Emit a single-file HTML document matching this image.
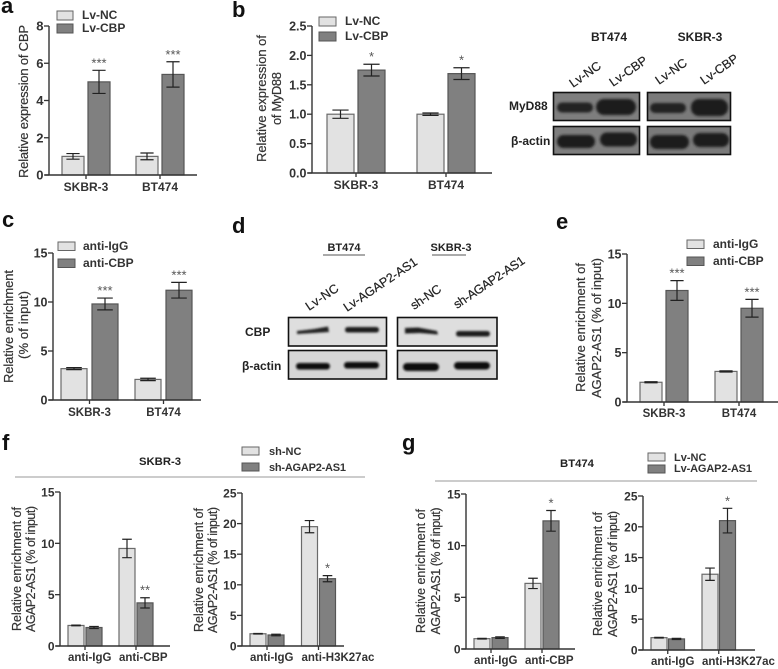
<!DOCTYPE html>
<html lang="en">
<head>
<meta charset="utf-8">
<title>Multi-panel bar charts and western blots</title>
<style>
html,body{margin:0;padding:0;background:#fff;}
svg{display:block;filter:blur(.35px);}
text{font-family:"Liberation Sans",Arial,sans-serif;fill:#2b2b2b;}
.letter{font-size:22px;font-weight:bold;fill:#111;}
.leg{font-size:12px;font-weight:bold;fill:#333;}
.lite{fill:#e2e2e2;stroke:#666;stroke-width:1;}
.dark{fill:#808080;stroke:#555;stroke-width:1;}
.ytitle{font-size:13px;fill:#333;stroke:#333;stroke-width:.2;}
.ytitle.small{font-size:12.5px;}
.blab{font-size:12px;font-weight:bold;fill:#222;}
.rot{font-size:12.5px;fill:#222;stroke:#222;stroke-width:.2;}
</style>
</head>
<body>
<svg id="figure" xmlns="http://www.w3.org/2000/svg" width="778" height="669" viewBox="0 0 778 669">
<defs>
<filter id="blur1" x="-20%" y="-60%" width="140%" height="220%"><feGaussianBlur stdDeviation="1.3"/></filter>
<filter id="blur2" x="-20%" y="-80%" width="140%" height="260%"><feGaussianBlur stdDeviation="1.1"/></filter>
</defs>
<rect width="778" height="669" fill="#fff"/>

<text class="letter" x="1" y="13">a</text>
<text class="letter" x="232" y="17">b</text>
<text class="letter" x="2" y="227">c</text>
<text class="letter" x="232" y="233">d</text>
<text class="letter" x="556" y="229">e</text>
<text class="letter" x="2" y="450">f</text>
<text class="letter" x="402" y="450">g</text>

<!-- legends -->
<g>
<rect class="lite" x="57" y="11" width="16" height="9"/>
<rect class="dark" x="57" y="24" width="16" height="9"/>
<text class="leg" x="82" y="19">Lv-NC</text>
<text class="leg" x="82" y="32">Lv-CBP</text>
</g>
<g>
<rect class="lite" x="319" y="17" width="17" height="9"/>
<rect class="dark" x="319" y="32" width="17" height="9"/>
<text class="leg" x="345" y="25">Lv-NC</text>
<text class="leg" x="345" y="40">Lv-CBP</text>
</g>
<g>
<rect class="lite" x="58" y="242" width="17" height="8.5"/>
<rect class="dark" x="58" y="259" width="17" height="8.5"/>
<text class="leg" x="83" y="250">anti-IgG</text>
<text class="leg" x="83" y="267">anti-CBP</text>
</g>
<g>
<rect class="lite" x="687" y="240" width="17" height="8.5"/>
<rect class="dark" x="687" y="257" width="17" height="8.5"/>
<text class="leg" x="713" y="248">anti-IgG</text>
<text class="leg" x="713" y="265">anti-CBP</text>
</g>
<g>
<rect class="lite" x="242" y="447" width="17" height="8"/>
<rect class="dark" x="242" y="463" width="17" height="8"/>
<text class="leg" style="font-size:11px" x="269" y="455">sh-NC</text>
<text class="leg" style="font-size:11px" x="269" y="471" textLength="77">sh-AGAP2-AS1</text>
</g>
<g>
<rect class="lite" x="648" y="453" width="17" height="8"/>
<rect class="dark" x="648" y="465" width="17" height="8"/>
<text class="leg" style="font-size:11px" x="674" y="461">Lv-NC</text>
<text class="leg" style="font-size:11px" x="674" y="472" textLength="78">Lv-AGAP2-AS1</text>
</g>

<!-- section headers -->
<text class="blab" style="font-size:11.3px" text-anchor="middle" x="160" y="465">SKBR-3</text>
<line x1="15" y1="477" x2="365" y2="477" stroke="#999" stroke-width="1"/>
<text class="blab" style="font-size:11.3px" text-anchor="middle" x="577" y="467">BT474</text>
<line x1="435" y1="481" x2="757" y2="481" stroke="#999" stroke-width="1"/>

<!-- axis titles -->
<text class="ytitle" text-anchor="middle" textLength="153" transform="translate(28,101.5) rotate(-90)">Relative expression of CBP</text>
<text class="ytitle" text-anchor="middle" textLength="127" transform="translate(266,98.5) rotate(-90)">Relative expression of</text>
<text class="ytitle" text-anchor="middle" textLength="53" transform="translate(281,98.5) rotate(-90)">of MyD88</text>
<text class="ytitle" text-anchor="middle" textLength="113" transform="translate(13,326.5) rotate(-90)">Relative enrichment</text>
<text class="ytitle" text-anchor="middle" textLength="68" transform="translate(28,325) rotate(-90)">(% of input)</text>
<text class="ytitle" text-anchor="middle" textLength="129" transform="translate(585,327.5) rotate(-90)">Relative enrichment of</text>
<text class="ytitle" text-anchor="middle" textLength="140" transform="translate(601,328) rotate(-90)">AGAP2-AS1 (% of input)</text>
<text class="ytitle small" text-anchor="middle" textLength="124" transform="translate(21,569) rotate(-90)">Relative enrichment of</text>
<text class="ytitle small" text-anchor="middle" textLength="126" transform="translate(35,569) rotate(-90)">AGAP2-AS1 (% of input)</text>
<text class="ytitle small" text-anchor="middle" textLength="124" transform="translate(203,570) rotate(-90)">Relative enrichment of</text>
<text class="ytitle small" text-anchor="middle" textLength="126" transform="translate(217,570) rotate(-90)">AGAP2-AS1 (% of input)</text>
<text class="ytitle small" text-anchor="middle" textLength="124" transform="translate(425,571) rotate(-90)">Relative enrichment of</text>
<text class="ytitle small" text-anchor="middle" textLength="127" transform="translate(440,571) rotate(-90)">AGAP2-AS1 (% of input)</text>
<text class="ytitle small" text-anchor="middle" textLength="124" transform="translate(602,574) rotate(-90)">Relative enrichment of</text>
<text class="ytitle small" text-anchor="middle" textLength="126" transform="translate(617,574) rotate(-90)">AGAP2-AS1 (% of input)</text>

<!-- blot b -->
<g>
<text class="blab" text-anchor="middle" x="609" y="41">BT474</text>
<text class="blab" text-anchor="middle" x="700" y="41">SKBR-3</text>
<text class="rot" transform="translate(573,88) rotate(-35)">Lv-NC</text>
<text class="rot" transform="translate(613,87) rotate(-35)">Lv-CBP</text>
<text class="rot" transform="translate(659,85) rotate(-35)">Lv-NC</text>
<text class="rot" transform="translate(704,85) rotate(-35)">Lv-CBP</text>
<text class="blab" x="509" y="110">MyD88</text>
<text class="blab" x="511" y="145">β-actin</text>
<g>
<rect x="553.5" y="92.5" width="86" height="28" fill="#7e7e7e" stroke="#111" stroke-width="1.6"/>
<rect x="557" y="102.5" width="36" height="10" rx="5" fill="#222" filter="url(#blur1)"/>
<rect x="596" y="99" width="40" height="16" rx="8" fill="#1c1c1c" filter="url(#blur1)"/>
</g>
<g>
<rect x="647.5" y="92.5" width="83" height="28" fill="#7a7a7a" stroke="#111" stroke-width="1.6"/>
<rect x="650" y="103" width="36" height="10" rx="5" fill="#222" filter="url(#blur1)"/>
<rect x="691" y="99" width="37" height="17" rx="8" fill="#1c1c1c" filter="url(#blur1)"/>
</g>
<g>
<rect x="553.5" y="126.5" width="86" height="28" fill="#7e7e7e" stroke="#111" stroke-width="1.6"/>
<rect x="557" y="135" width="38" height="13" rx="6.5" fill="#1a1a1a" filter="url(#blur1)"/>
<rect x="600" y="132.5" width="37" height="14" rx="7" fill="#1a1a1a" filter="url(#blur1)"/>
</g>
<g>
<rect x="647.5" y="126.5" width="83" height="28" fill="#7a7a7a" stroke="#111" stroke-width="1.6"/>
<rect x="650" y="135" width="39" height="14" rx="7" fill="#1a1a1a" filter="url(#blur1)"/>
<rect x="693" y="133" width="36" height="14" rx="7" fill="#1a1a1a" filter="url(#blur1)"/>
</g>
</g>

<!-- blot d -->
<g>
<text class="blab" style="font-size:11px" text-anchor="middle" x="344" y="251">BT474</text>
<line x1="323" y1="255" x2="365" y2="255" stroke="#555" stroke-width="1"/>
<text class="blab" style="font-size:11px" text-anchor="middle" x="451" y="251">SKBR-3</text>
<line x1="432" y1="255" x2="466" y2="255" stroke="#555" stroke-width="1"/>
<text class="rot" textLength="37" transform="translate(309,311) rotate(-34)">Lv-NC</text>
<text class="rot" textLength="86" transform="translate(347,312) rotate(-34)">Lv-AGAP2-AS1</text>
<text class="rot" textLength="34" transform="translate(414,310) rotate(-34)">sh-NC</text>
<text class="rot" textLength="83" transform="translate(457,309) rotate(-34)">sh-AGAP2-AS1</text>
<text class="blab" x="245" y="336">CBP</text>
<text class="blab" x="242" y="370">β-actin</text>
<g>
<rect x="288.5" y="317.5" width="98" height="28.5" fill="#dedede" stroke="#111" stroke-width="1.6"/>
<path d="M297 331 L314 329 L328 326.5 L329 332 L314 333 L297 334 Z" fill="#222" filter="url(#blur2)"/>
<rect x="345" y="327" width="34" height="5.5" rx="2.7" fill="#1e1e1e" filter="url(#blur2)"/>
</g>
<g>
<rect x="397.5" y="317.5" width="99.5" height="28.5" fill="#dedede" stroke="#111" stroke-width="1.6"/>
<path d="M405 328 L418 327.5 L437 331 L438 334.5 L420 333 L405 333.5 Z" fill="#1c1c1c" filter="url(#blur2)"/>
<rect x="456" y="331" width="34" height="5.5" rx="2.7" fill="#1e1e1e" filter="url(#blur2)"/>
</g>
<g>
<rect x="288.5" y="350.5" width="98" height="28.5" fill="#d6d6d6" stroke="#111" stroke-width="1.6"/>
<rect x="296" y="363" width="34" height="6.5" rx="3.2" fill="#111" filter="url(#blur2)"/>
<rect x="344" y="362" width="35" height="6.5" rx="3.2" fill="#111" filter="url(#blur2)"/>
</g>
<g>
<rect x="397.5" y="350.5" width="99.5" height="28.5" fill="#d6d6d6" stroke="#111" stroke-width="1.6"/>
<rect x="403" y="363" width="36" height="8" rx="4" fill="#0e0e0e" filter="url(#blur2)"/>
<rect x="454" y="362" width="36" height="7.5" rx="3.7" fill="#0e0e0e" filter="url(#blur2)"/>
</g>
</g>

<g id="charts"></g>
</svg>

<script>
// Panel a
const aCategories = ['SKBR-3', 'BT474'];
const aTickLabels = ['0', '2', '4', '6', '8'];
const aLightValues = [1.0, 1.0];
const aLightErrors = [0.15, 0.18];
const aDarkValues = [5.0, 5.4];
const aDarkErrors = [0.62, 0.68];
const aDarkStars = ['***', '***'];
const aLightStars = ['', ''];
// Panel b
const bCategories = ['SKBR-3', 'BT474'];
const bTickLabels = ['0.0', '0.5', '1.0', '1.5', '2.0', '2.5'];
const bLightValues = [1.0, 1.0];
const bLightErrors = [0.07, 0.02];
const bDarkValues = [1.75, 1.69];
const bDarkErrors = [0.1, 0.1];
const bDarkStars = ['*', '*'];
const bLightStars = ['', ''];
// Panel c
const cCategories = ['SKBR-3', 'BT474'];
const cTickLabels = ['0', '5', '10', '15'];
const cLightValues = [3.2, 2.1];
const cLightErrors = [0.1, 0.12];
const cDarkValues = [9.8, 11.2];
const cDarkErrors = [0.6, 0.8];
const cDarkStars = ['***', '***'];
const cLightStars = ['', ''];
// Panel e
const eCategories = ['SKBR-3', 'BT474'];
const eTickLabels = ['0', '5', '10', '15'];
const eLightValues = [2.0, 3.1];
const eLightErrors = [0.05, 0.06];
const eDarkValues = [11.3, 9.5];
const eDarkErrors = [1.0, 0.9];
const eDarkStars = ['***', '***'];
const eLightStars = ['', ''];
// Panel f, left
const f1Categories = ['anti-IgG', 'anti-CBP'];
const f1TickLabels = ['0', '5', '10', '15'];
const f1LightValues = [2.0, 9.5];
const f1LightErrors = [0.03, 0.9];
const f1DarkValues = [1.8, 4.2];
const f1DarkErrors = [0.1, 0.5];
const f1DarkStars = ['', '**'];
const f1LightStars = ['', ''];
// Panel f, right
const f2Categories = ['anti-IgG', 'anti-H3K27ac'];
const f2TickLabels = ['0', '5', '10', '15', '20', '25'];
const f2LightValues = [2.0, 19.5];
const f2LightErrors = [0.05, 1.0];
const f2DarkValues = [1.8, 11.0];
const f2DarkErrors = [0.12, 0.5];
const f2DarkStars = ['', '*'];
const f2LightStars = ['', ''];
// Panel g, left
const g1Categories = ['anti-IgG', 'anti-CBP'];
const g1TickLabels = ['0', '5', '10', '15'];
const g1LightValues = [1.0, 6.35];
const g1LightErrors = [0.03, 0.5];
const g1DarkValues = [1.1, 12.4];
const g1DarkErrors = [0.07, 1.0];
const g1DarkStars = ['', '*'];
const g1LightStars = ['', ''];
// Panel g, right
const g2Categories = ['anti-IgG', 'anti-H3K27ac'];
const g2TickLabels = ['0', '5', '10', '15', '20', '25'];
const g2LightValues = [2.0, 12.3];
const g2LightErrors = [0.05, 1.0];
const g2DarkValues = [1.8, 21.0];
const g2DarkErrors = [0.1, 2.0];
const g2DarkStars = ['', '*'];
const g2LightStars = ['', ''];

const NS = 'http://www.w3.org/2000/svg';
const root = document.getElementById('charts');

function make(parent, tag, attrs, txt) {
  const el = document.createElementNS(NS, tag);
  for (const k in attrs) el.setAttribute(k, attrs[k]);
  if (txt !== undefined) el.textContent = txt;
  parent.appendChild(el);
  return el;
}

function drawChart(name, frame, cats, ticks, seriesList) {
  const g = make(root, 'g', {});
  
  
  const tickNums = ticks.map(Number);
  const yMax = Math.max.apply(null, tickNums);
  const yScale = function (v) { return frame.y0 - (v / yMax) * (frame.y0 - frame.top); };
  const xScale = function (c, s) { return frame.start + c * frame.group + s * frame.inner; };

  // bars, error bars, significance marks
  seriesList.forEach(function (ser, s) {
    cats.forEach(function (cat, c) {
      const x = xScale(c, s);
      const yv = yScale(ser.values[c]);
      const bar = make(g, 'rect', {
        x: x, y: yv, width: frame.w, height: frame.y0 - yv,
        fill: ser.fill, stroke: ser.stroke, 'stroke-width': 1.2
      });
      
      
      const cx = x + frame.w / 2;
      const hi = yScale(ser.values[c] + ser.errors[c]);
      const lo = yScale(ser.values[c] - ser.errors[c]);
      const cap = frame.w * 0.3;
      const err = make(g, 'path', {
        d: 'M' + (cx - cap) + ' ' + hi + 'H' + (cx + cap) + 'M' + cx + ' ' + hi + 'V' + lo + 'M' + (cx - cap) + ' ' + lo + 'H' + (cx + cap),
        fill: 'none', stroke: '#222', 'stroke-width': 1.2
      });
      
      
      if (ser.stars[c]) {
        const st = make(g, 'text', {
          x: cx, y: hi - 3, 'text-anchor': 'middle',
          style: 'font-size:13px;fill:#555'
        }, ser.stars[c]);
        
        
      }
    });
  });

  // axes
  const yAxis = make(g, 'line', { x1: frame.ax, x2: frame.ax, y1: frame.top, y2: frame.y0, stroke: '#333', 'stroke-width': 1.4 });
  
  
  const xAxis = make(g, 'line', { x1: frame.ax - 4, x2: frame.end, y1: frame.y0, y2: frame.y0, stroke: '#333', 'stroke-width': 1.4 });
  
  

  ticks.forEach(function (t, i) {
    const y = yScale(tickNums[i]);
    const tk = make(g, 'line', { x1: frame.ax - 5, x2: frame.ax, y1: y, y2: y, stroke: '#333', 'stroke-width': 1.3 });
    
    
    const lb = make(g, 'text', {
      x: frame.ax - 5.5, y: y + 4.5, 'text-anchor': 'end',
      style: 'font-size:' + frame.tickSize + 'px;font-weight:bold;fill:#333'
    }, t);
    
    
  });

  cats.forEach(function (cat, c) {
    const mid = xScale(c, 0) + (frame.inner + frame.w) / 2;
    const tk = make(g, 'line', { x1: mid, x2: mid, y1: frame.y0, y2: frame.y0 + 4, stroke: '#333', 'stroke-width': 1.3 });
    
    
    const lb = make(g, 'text', {
      x: frame.leftLabels ? xScale(c, 0) : mid,
      y: frame.y0 + frame.catOffset,
      'text-anchor': frame.leftLabels ? 'start' : 'middle',
      style: 'font-size:' + frame.catSize + 'px;font-weight:bold;fill:#333'
    }, cat);
    
    
  });
}

function series(lv, le, ls, dv, de, ds) {
  return [
    { key: 'control', values: lv, errors: le, stars: ls, fill: '#e2e2e2', stroke: '#6a6a6a' },
    { key: 'treated', values: dv, errors: de, stars: ds, fill: '#808080', stroke: '#555' }
  ];
}

drawChart('chart-a', { ax: 49, y0: 175, top: 26, end: 197, start: 62, w: 22, inner: 26, group: 74, tickSize: 13, catSize: 12, catOffset: 16 },
  aCategories, aTickLabels, series(aLightValues, aLightErrors, aLightStars, aDarkValues, aDarkErrors, aDarkStars));
drawChart('chart-b', { ax: 312, y0: 173, top: 26, end: 492, start: 327, w: 27, inner: 31, group: 90, tickSize: 12.5, catSize: 12, catOffset: 16 },
  bCategories, bTickLabels, series(bLightValues, bLightErrors, bLightStars, bDarkValues, bDarkErrors, bDarkStars));
drawChart('chart-c', { ax: 53, y0: 400, top: 253, end: 201, start: 61, w: 26, inner: 31, group: 74, tickSize: 12.5, catSize: 11.5, catOffset: 16 },
  cCategories, cTickLabels, series(cLightValues, cLightErrors, cLightStars, cDarkValues, cDarkErrors, cDarkStars));
drawChart('chart-e', { ax: 627, y0: 402, top: 254, end: 778, start: 640, w: 22, inner: 26, group: 75, tickSize: 12.5, catSize: 11.5, catOffset: 15 },
  eCategories, eTickLabels, series(eLightValues, eLightErrors, eLightStars, eDarkValues, eDarkErrors, eDarkStars));
drawChart('chart-f-cbp', { ax: 60, y0: 646, top: 492, end: 170, start: 68, w: 16, inner: 18, group: 51, tickSize: 12, catSize: 11.5, catOffset: 15, leftLabels: true },
  f1Categories, f1TickLabels, series(f1LightValues, f1LightErrors, f1LightStars, f1DarkValues, f1DarkErrors, f1DarkStars));
drawChart('chart-f-h3k27ac', { ax: 242, y0: 646, top: 493, end: 344, start: 250, w: 16, inner: 18, group: 51.5, tickSize: 12, catSize: 11.5, catOffset: 15, leftLabels: true },
  f2Categories, f2TickLabels, series(f2LightValues, f2LightErrors, f2LightStars, f2DarkValues, f2DarkErrors, f2DarkStars));
drawChart('chart-g-cbp', { ax: 466, y0: 649, top: 494, end: 575, start: 474, w: 16, inner: 18, group: 51, tickSize: 12, catSize: 11.5, catOffset: 15, leftLabels: true },
  g1Categories, g1TickLabels, series(g1LightValues, g1LightErrors, g1LightStars, g1DarkValues, g1DarkErrors, g1DarkStars));
drawChart('chart-g-h3k27ac', { ax: 643, y0: 650, top: 496, end: 755, start: 651, w: 16, inner: 17.5, group: 51, tickSize: 12, catSize: 11.5, catOffset: 15, leftLabels: true },
  g2Categories, g2TickLabels, series(g2LightValues, g2LightErrors, g2LightStars, g2DarkValues, g2DarkErrors, g2DarkStars));
</script>
</body>
</html>
